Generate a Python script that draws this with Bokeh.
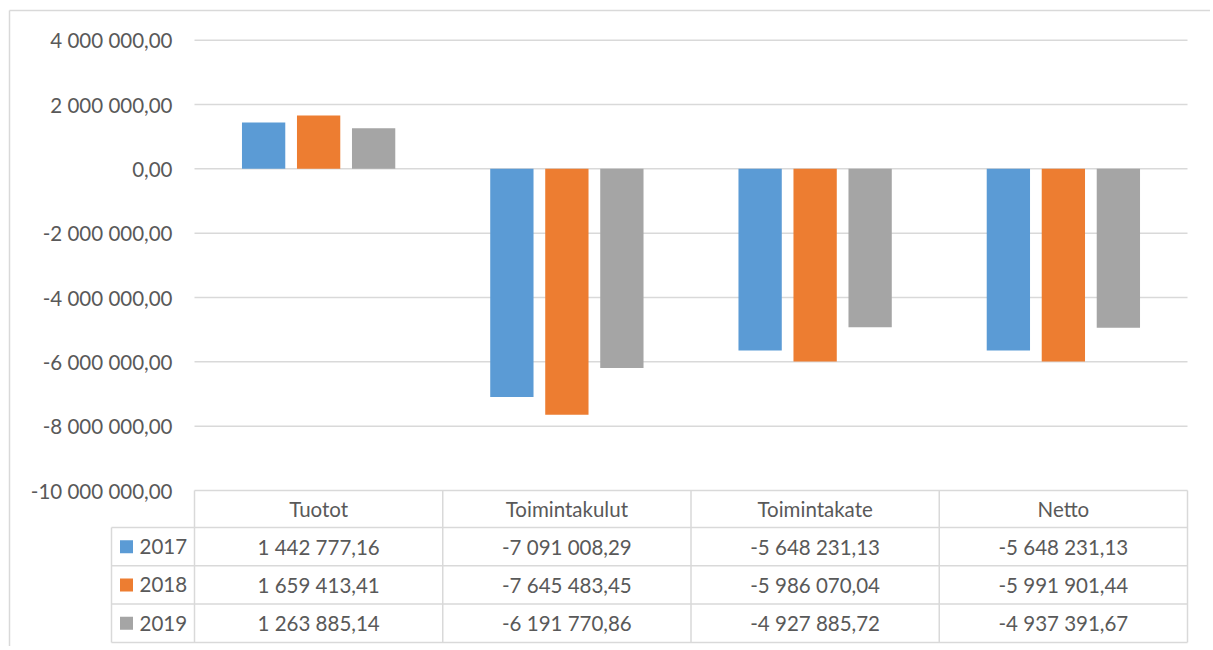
from bokeh.plotting import figure
from bokeh.models import FixedTicker, Range1d
from bokeh.core.properties import value
from bokeh.embed import file_html
from bokeh.resources import INLINE

# ---------------- data ----------------
categories = ["Tuotot", "Toimintakulut", "Toimintakate", "Netto"]
years = ["2017", "2018", "2019"]
v2017 = [1442777.16, -7091008.29, -5648231.13, -5648231.13]
v2018 = [1659413.41, -7645483.45, -5986070.04, -5991901.44]
v2019 = [1263885.14, -6191770.86, -4927885.72, -4937391.67]
tick_values = [4000000, 2000000, 0, -2000000, -4000000, -6000000, -8000000, -10000000]
tick_labels = ["4 000 000,00", "2 000 000,00", "0,00", "-2 000 000,00", "-4 000 000,00",
               "-6 000 000,00", "-8 000 000,00", "-10 000 000,00"]
table_2017 = ["1 442 777,16", "-7 091 008,29", "-5 648 231,13", "-5 648 231,13"]
table_2018 = ["1 659 413,41", "-7 645 483,45", "-5 986 070,04", "-5 991 901,44"]
table_2019 = ["1 263 885,14", "-6 191 770,86", "-4 927 885,72", "-4 937 391,67"]
colors = ["#5B9BD5", "#ED7D31", "#A5A5A5"]

# ---------------- layout constants (pixels) ----------------
W, H = 1210, 646
PAGE = 0                     # observed page offset of the figure
CAT_W = 248.25               # px per category
PLOT_L = 194                 # page x of plot area left
PX_2M = 64.33                # px per 2 000 000
Y4M_PAGE = 39.7              # page y of 4M gridline
u = 2e6 / PX_2M              # data units per px
x_start = -0.5 - (PLOT_L - PAGE) / CAT_W
x_end = x_start + W / CAT_W
y_end = 4e6 + (Y4M_PAGE - PAGE) * u
y_start = y_end - H * u


def px(page_x):
    return x_start + (page_x - PAGE) / CAT_W


def py(page_y):
    return y_end - (page_y - PAGE) * u


GRID = "#D9D9D9"
TXT = "#595959"
FONT = value("Lato")
FS = "20.5px"

p = figure(width=W, height=H, output_backend="svg", toolbar_location=None,
           x_range=Range1d(x_start, x_end), y_range=Range1d(y_start, y_end),
           x_axis_location=None, min_border=0)
p.outline_line_color = None
p.grid.visible = False
p.background_fill_color = "white"
p.border_fill_color = "white"

# outer chart border (left and top)
p.segment(x0=[px(9), px(9)], y0=[py(10), py(10)], x1=[px(9), x_end], y1=[py(H + PAGE), py(10)],
          line_color=GRID, line_width=1.5)

# gridlines (the lowest one is the top of the table)
n = len(categories)
p.segment(x0=[-0.5] * len(tick_values), x1=[n - 0.5] * len(tick_values),
          y0=tick_values, y1=tick_values, line_color=GRID, line_width=1.5)

# bars
BAR_W = 43.3 / CAT_W
STEP = 55.0 / CAT_W
for k, (vals, col) in enumerate(zip([v2017, v2018, v2019], colors)):
    xs = [i + (k - 1) * STEP for i in range(n)]
    p.vbar(x=xs, top=vals, bottom=0, width=BAR_W, fill_color=col, line_color=None)

# y axis inside the frame
yax = p.yaxis[0]
yax.fixed_location = px(172)
yax.ticker = FixedTicker(ticks=tick_values)
yax.major_label_overrides = {t: l for t, l in zip(tick_values, tick_labels)}
yax.axis_line_color = None
yax.major_tick_line_color = None
yax.minor_tick_line_color = None
yax.major_tick_out = 0
yax.major_tick_in = 0
yax.major_label_standoff = 0
yax.major_label_text_font = "Lato"
yax.major_label_text_font_size = FS
yax.major_label_text_color = TXT

# ---------------- data table ----------------
HEADER_H = 37.0
ROW_H = 38.3
top_page = Y4M_PAGE + 7 * PX_2M          # -10M line
hdr_bot = top_page + HEADER_H
row_lines = [hdr_bot + ROW_H * r for r in range(4)]
bottom = row_lines[-1]
leg_left = px(111)

# vertical lines
vx = [i - 0.5 for i in range(n + 1)]
p.segment(x0=vx, x1=vx, y0=[-10e6] * len(vx), y1=[py(bottom)] * len(vx),
          line_color=GRID, line_width=1.5)
p.segment(x0=[leg_left], x1=[leg_left], y0=[py(hdr_bot)], y1=[py(bottom)],
          line_color=GRID, line_width=1.5)
# horizontal lines
p.segment(x0=[leg_left] * 4, x1=[n - 0.5] * 4, y0=[py(y) for y in row_lines],
          y1=[py(y) for y in row_lines], line_color=GRID, line_width=1.5)

# header
p.text(x=list(range(n)), y=[py(top_page + HEADER_H / 2)] * n, text=categories,
       text_align="center", text_baseline="middle", text_font=FONT,
       text_font_size=FS, text_color=TXT)

# rows
for r, (rowtxt, yr, col) in enumerate(zip([table_2017, table_2018, table_2019], years, colors)):
    yc = py(hdr_bot + ROW_H * r + ROW_H / 2)
    p.text(x=list(range(n)), y=[yc] * n, text=rowtxt, text_align="center",
           text_baseline="middle", text_font=FONT, text_font_size=FS, text_color=TXT)
    p.scatter(x=[px(126)], y=[yc], marker="square", size=13, fill_color=col, line_color=None)
    p.text(x=[px(139)], y=[yc], text=[yr], text_align="left", text_baseline="middle",
           text_font=FONT, text_font_size=FS, text_color=TXT)

open("out.html", "w").write(file_html(p, INLINE))
